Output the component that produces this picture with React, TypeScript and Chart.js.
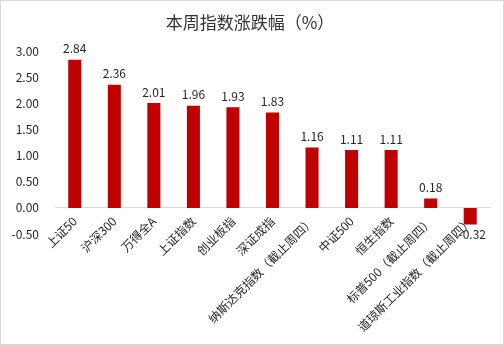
import React, { useEffect, useRef } from 'react';
import { Chart, registerables } from 'chart.js';

Chart.register(...registerables);

const titleText = '本周指数涨跌幅（%）';
const categories = [
  '上证50',
  '沪深300',
  '万得全A',
  '上证指数',
  '创业板指',
  '深证成指',
  '纳斯达克指数（截止周四）',
  '中证500',
  '恒生指数',
  '标普500（截止周四）',
  '道琼斯工业指数（截止周四）',
];
const changes = [2.84, 2.36, 2.01, 1.96, 1.93, 1.83, 1.16, 1.11, 1.11, 0.18, -0.32];
const yMin = -0.5;
const yMax = 3.0;
const yStep = 0.5;

const FONT = '"Noto Sans CJK SC", "Noto Sans", sans-serif';
const BAR_COLOR = '#C00000';
const TEXT_COLOR = '#262626';

const valueLabels = {
  id: 'valueLabels',
  afterDatasetsDraw(chart: any) {
    const ctx = chart.ctx;
    const meta = chart.getDatasetMeta(0);
    ctx.save();
    ctx.font = `12px ${FONT}`;
    ctx.fillStyle = TEXT_COLOR;
    ctx.textAlign = 'center';
    meta.data.forEach((bar: any, i: number) => {
      const v = changes[i];
      const txt = v.toFixed(2);
      if (v >= 0) {
        ctx.textBaseline = 'bottom';
        ctx.fillText(txt, bar.x, bar.y - 5);
      } else {
        ctx.textBaseline = 'top';
        ctx.fillText(txt, bar.x + 2, bar.y + 4);
      }
    });
    ctx.restore();
  },
};

export default function App() {
  const ref = useRef<HTMLCanvasElement | null>(null);
  useEffect(() => {
    document.body.style.margin = '0';
    if (!ref.current) return;
    const chart = new Chart(ref.current, {
      type: 'bar',
      data: {
        labels: categories,
        datasets: [
          {
            data: changes,
            backgroundColor: BAR_COLOR,
            borderWidth: 0,
            barPercentage: 0.33,
            categoryPercentage: 1,
          },
        ],
      },
      options: {
        animation: false,
        responsive: false,
        maintainAspectRatio: false,
        devicePixelRatio: 1,
        layout: { padding: { left: 9, right: 13, top: 0, bottom: 110 } },
        plugins: {
          legend: { display: false },
          tooltip: { enabled: false },
          title: {
            display: true,
            text: titleText,
            color: '#333333',
            font: { family: FONT, size: 17, weight: 'normal' },
            padding: { top: 11, bottom: 19 },
          },
        },
        scales: {
          x: {
            position: { y: 0 } as any,
            grid: { display: false, drawTicks: false },
            border: { display: true, color: '#d9d9d9', width: 1 },
            afterFit: (scale: any) => {
              scale.paddingLeft = 0;
              scale.paddingRight = 0;
            },
            ticks: {
              color: TEXT_COLOR,
              font: { family: FONT, size: 12 },
              minRotation: 45,
              maxRotation: 45,
              autoSkip: false,
              padding: 6,
            },
          },
          y: {
            min: yMin,
            max: yMax,
            grid: { display: false, drawTicks: false },
            border: { display: false },
            afterFit: (scale: any) => {
              scale.width = 45;
            },
            ticks: {
              stepSize: yStep,
              color: TEXT_COLOR,
              font: { family: FONT, size: 12 },
              padding: 16,
              callback: (v: any) => Number(v).toFixed(2),
            },
          },
        },
      },
      plugins: [valueLabels],
    });
    return () => chart.destroy();
  }, []);
  return (
    <div
      style={{
        width: 504,
        height: 345,
        border: '1px solid #d9d9d9',
        boxSizing: 'border-box',
        background: '#fff',
      }}
    >
      <canvas ref={ref} width={502} height={343} style={{ display: 'block' }} />
    </div>
  );
}
